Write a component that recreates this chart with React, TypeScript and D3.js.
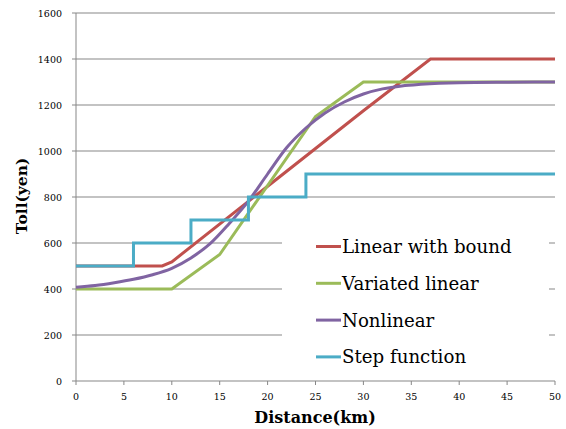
import React from "react";
import * as d3 from "d3";

const xTicks = [0, 5, 10, 15, 20, 25, 30, 35, 40, 45, 50];
const yTicks = [0, 200, 400, 600, 800, 1000, 1200, 1400, 1600];

const linearBoundX = [0, 9, 10, 30, 37, 50];
const linearBoundY = [500, 500, 518, 1175, 1400, 1400];

const variatedX = [0, 10, 15, 25, 30, 50];
const variatedY = [400, 400, 550, 1150, 1300, 1300];

const nonlinearX = [0, 2, 4, 6, 8, 10, 12, 14, 16, 18, 20, 22, 24, 26, 28, 30, 32, 34, 36, 40, 45, 50];
const nonlinearY = [408, 415, 427, 442, 462, 490, 535, 597, 685, 782, 900, 1015, 1100, 1165, 1213, 1248, 1270, 1283, 1290, 1297, 1299, 1300];

const stepX = [0, 6, 6, 12, 12, 18, 18, 24, 24, 50];
const stepY = [500, 500, 600, 600, 700, 700, 800, 800, 900, 900];

const seriesNames = ["Linear with bound", "Variated linear", "Nonlinear", "Step function"];
const seriesColors = ["#C0504D", "#9BBB59", "#8064A2", "#4BACC6"];

const W = 566, H = 429;
const serif = "'DejaVu Serif', serif";

export default function App() {
  const x = d3.scaleLinear().domain([0, 50]).range([76, 555]);
  const y = d3.scaleLinear().domain([0, 1600]).range([381, 13]);
  const lin = d3.line<[number, number]>().x(d => x(d[0])).y(d => y(d[1]));
  const smooth = d3.line<[number, number]>().x(d => x(d[0])).y(d => y(d[1])).curve(d3.curveMonotoneX);
  const zip = (a: number[], b: number[]) => a.map((v, i) => [v, b[i]] as [number, number]);

  const paths = [
    lin(zip(linearBoundX, linearBoundY)),
    lin(zip(variatedX, variatedY)),
    smooth(zip(nonlinearX, nonlinearY)),
    lin(zip(stepX, stepY)),
  ];
  const order = [0, 1, 2, 3];

  return (
    <svg width={W} height={H} style={{ position: "absolute", left: 0, top: 0, background: "#fff" }}>
      <rect x={0} y={0} width={W} height={H} fill="#fff" />
      {yTicks.filter(t => t > 0).map(t => (
        <line key={t} x1={x(0)} x2={x(50)} y1={y(t)} y2={y(t)} stroke="#878787" strokeWidth={1} />
      ))}
      <line x1={x(0)} x2={x(0)} y1={y(1600)} y2={y(0)} stroke="#878787" strokeWidth={1} />
      <line x1={x(0)} x2={x(50)} y1={y(0)} y2={y(0)} stroke="#878787" strokeWidth={1} />
      {yTicks.map(t => (
        <g key={t}>
          <line x1={x(0) - 4} x2={x(0)} y1={y(t)} y2={y(t)} stroke="#878787" />
          <text x={62} y={y(t) + 3.5} textAnchor="end" fontFamily={serif} fontSize={9.5} fill="#000">{t}</text>
        </g>
      ))}
      {xTicks.map(t => (
        <g key={t}>
          <line x1={x(t)} x2={x(t)} y1={y(0)} y2={y(0) + 4} stroke="#878787" />
          <text x={x(t)} y={400} textAnchor="middle" fontFamily={serif} fontSize={9.5} fill="#000">{t}</text>
        </g>
      ))}
      {order.map(i => (
        <path key={i} d={paths[i] || ""} fill="none" stroke={seriesColors[i]} strokeWidth={3} strokeLinejoin="miter" />
      ))}
      <rect x={282} y={226} width={267} height={146} fill="#fff" />
      {seriesNames.map((n, i) => {
        const ly = 246.5 + i * 36.8;
        return (
          <g key={n}>
            <line x1={316} x2={341} y1={ly} y2={ly} stroke={seriesColors[i]} strokeWidth={3} />
            <text x={342} y={ly + 6.5} fontFamily={serif} fontSize={18.2} fill="#000">{n}</text>
          </g>
        );
      })}
      <text x={315} y={423} textAnchor="middle" fontFamily={serif} fontWeight="bold" fontSize={16} fill="#000">Distance(km)</text>
      <text transform={`translate(27,196) rotate(-90)`} textAnchor="middle" fontFamily={serif} fontWeight="bold" fontSize={15.5} fill="#000">Toll(yen)</text>
    </svg>
  );
}
